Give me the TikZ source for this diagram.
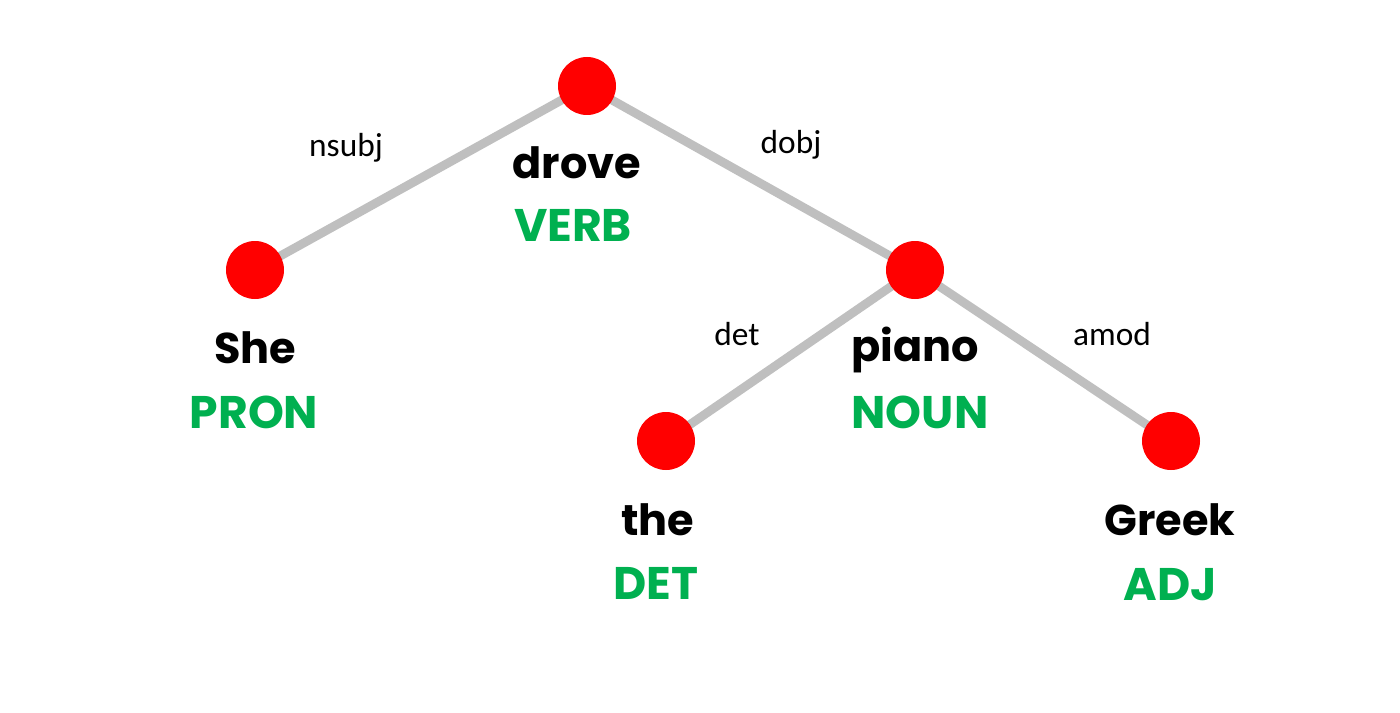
\documentclass[tikz,border=0pt]{standalone}
\usepackage{fontspec}
\setmainfont{Carlito}
\newfontfamily\wordfont{Poppins}
\definecolor{posgreen}{HTML}{00B050}
\definecolor{edgegray}{HTML}{BFBFBF}
\begin{document}
\begin{tikzpicture}[x=0.02cm,y=-0.02cm,
  tok/.style={circle,fill=red,minimum size=58*0.02cm,inner sep=0pt},
  dep/.style={draw=edgegray,line width=5pt},
  wordtxt/.style={font=\wordfont\bfseries\fontsize{24.5}{30}\selectfont,text=black,inner sep=0pt},
  postag/.style={font=\wordfont\bfseries\fontsize{26}{30}\selectfont,text=posgreen,inner sep=0pt},
  rel/.style={font=\fontsize{19}{22}\selectfont,inner sep=0pt}]
\useasboundingbox (0,0) rectangle (1400,713);
\coordinate (cdrove) at (587,86);
\coordinate (cshe) at (255,270);
\coordinate (cpiano) at (915,270);
\coordinate (cthe) at (666,441);
\coordinate (cgreek) at (1171,441);
\draw[dep] (cdrove) -- (cshe);
\draw[dep] (cdrove) -- (cpiano);
\draw[dep] (cpiano) -- (cthe);
\draw[dep] (cpiano) -- (cgreek);
\node[tok] (drove) at (cdrove) {};
\node[tok] (she) at (cshe) {};
\node[tok] (piano) at (cpiano) {};
\node[tok] (the) at (cthe) {};
\node[tok] (greek) at (cgreek) {};
\node[wordtxt] (w1) at (577,163) {drove};
\node[postag] (p1) at (573,225) {VERB};
\node[wordtxt] (w2) at (255,348) {She};
\node[postag] (p2) at (254,412) {PRON};
\node[wordtxt] (w3) at (915,350) {piano};
\node[postag] (p3) at (920,412) {NOUN};
\node[wordtxt] (w4) at (658,520) {the};
\node[postag] (p4) at (656,583) {DET};
\node[wordtxt] (w5) at (1170,520) {Greek};
\node[postag] (p5) at (1170,585) {ADJ};
\node[rel] (r1) at (346,148) {nsubj};
\node[rel] (r2) at (791,145) {dobj};
\node[rel] (r3) at (737,334) {det};
\node[rel] (r4) at (1112,334) {amod};
\end{tikzpicture}
\end{document}
